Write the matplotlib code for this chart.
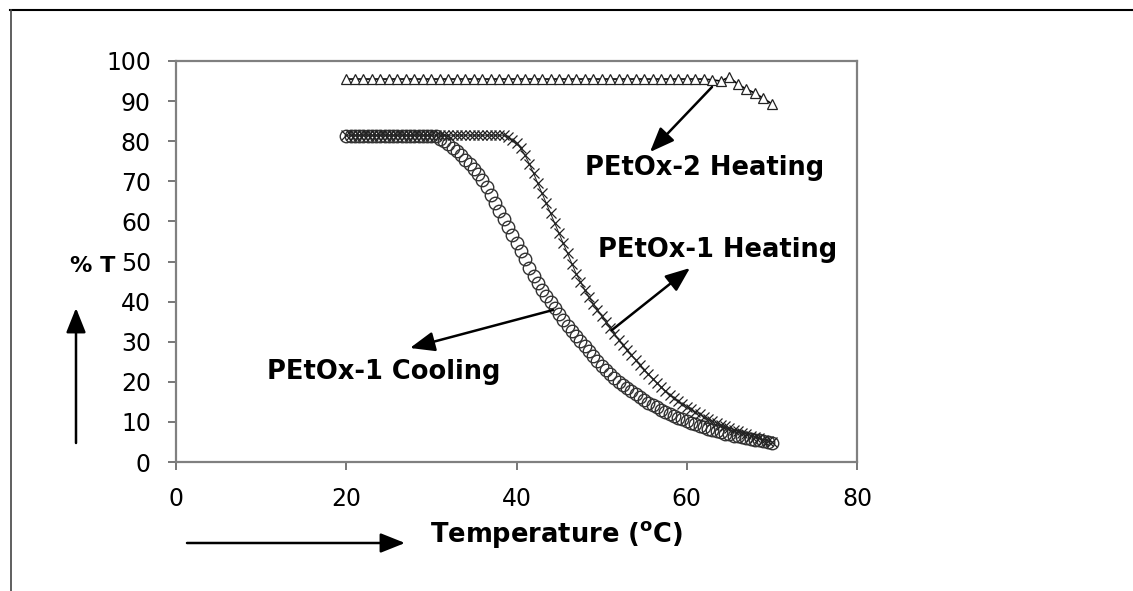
import matplotlib
matplotlib.use("Agg")
import matplotlib.pyplot as plt
from matplotlib.patches import FancyArrowPatch
from matplotlib.lines import Line2D

# PEtOx-1 measured every 0.5 °C, PEtOx-2 every 1 °C
temp_fine = [20 + 0.5 * i for i in range(101)]
temp_coarse = list(range(20, 71))

cooling_1 = ([81.2] * 22 +
             [80.6, 80.0, 79.2, 78.4, 77.5, 76.5, 75.4, 74.3, 73.0, 71.7,
              70.2, 68.5, 66.6, 64.6, 62.5, 60.5, 58.5, 56.5, 54.5, 52.5,
              50.5, 48.5, 46.5, 44.7, 43.0, 41.5, 40.0, 38.5, 37.0, 35.5,
              34.0, 32.7, 31.5, 30.2, 29.0, 27.7, 26.5, 25.2, 24.0, 23.0,
              22.0, 21.0, 20.0, 19.2, 18.5, 17.7, 17.0, 16.2, 15.5, 14.8,
              14.2, 13.6, 13.0, 12.5, 12.0, 11.5, 11.0, 10.6, 10.2, 9.8,
              9.4, 9.0, 8.7, 8.3, 8.0, 7.7, 7.4, 7.1, 6.9, 6.6,
              6.4, 6.2, 6.0, 5.8, 5.6, 5.4, 5.2, 5.0, 4.8])
heating_1 = ([81.5] * 38 +
             [81.0, 80.4, 79.5, 78.2, 76.5, 74.4, 72.0, 69.5, 67.0, 64.5,
              62.0, 59.5, 57.0, 54.5, 52.0, 49.5, 47.0, 45.0, 43.0, 41.2,
              39.5, 38.0, 36.5, 35.0, 33.5, 32.0, 30.5, 29.2, 28.0, 26.7,
              25.5, 24.2, 23.0, 21.9, 20.8, 19.7, 18.7, 17.7, 16.8, 16.0,
              15.2, 14.5, 13.8, 13.1, 12.5, 11.9, 11.3, 10.7, 10.2, 9.7,
              9.3, 8.9, 8.5, 8.1, 7.7, 7.3, 7.0, 6.6, 6.3, 5.9,
              5.6, 5.3, 5.0])
heating_2 = [95.5] * 43 + [95.3, 95.0, 96.0, 94.2, 93.0, 92.0, 90.7, 89.3]

xticks = [0, 20, 40, 60, 80]
yticks = list(range(0, 101, 10))

W, H = 1133, 591
fig = plt.figure(figsize=(W / 100, H / 100), dpi=100)

def fp(px, py):
    return (px / W, 1 - py / H)

ax = fig.add_axes([176 / W, 1 - 462 / H, (857 - 176) / W, (462 - 61) / H])
ax.set_xlim(0, 80)
ax.set_ylim(0, 100)
ax.set_xticks(xticks)
ax.set_yticks(yticks)
for s in ax.spines.values():
    s.set_color("#808080")
    s.set_linewidth(1.6)
ax.tick_params(direction="out", length=6, width=1.2, color="#606060",
               labelsize=17, pad=12, labelcolor="black")

ax.plot(temp_fine, cooling_1, linestyle="none", marker="o", markersize=9,
        markerfacecolor="none", markeredgecolor="#333333", markeredgewidth=1.0)
ax.plot(temp_fine, heating_1, linestyle="-", linewidth=0.7, color="#222222",
        marker="x", markersize=7, markeredgewidth=0.9)
ax.plot(temp_coarse, heating_2, linestyle="-", linewidth=1.2, color="black",
        marker="^", markersize=7, markerfacecolor="white", markeredgecolor="#222222",
        markeredgewidth=0.9)

bold = dict(fontsize=18.5, fontweight="bold", color="black", va="center", ha="left")
fig.text(*fp(585, 168), "PEtOx-2 Heating", **bold)
fig.text(*fp(598, 250), "PEtOx-1 Heating", **bold)
fig.text(*fp(267, 372), "PEtOx-1 Cooling", **bold)
fig.text(*fp(70, 266), "% T", fontsize=16, fontweight="bold", va="center", ha="left")
fig.text(*fp(430, 534), r"Temperature ($\mathbf{^o}$C)", **bold)

def farrow(p0, p1):
    fig.add_artist(FancyArrowPatch(fp(*p0), fp(*p1), transform=fig.transFigure,
                                   arrowstyle="-|>,head_length=0.75,head_width=0.3",
                                   mutation_scale=20, color="black", lw=1.8,
                                   shrinkA=0, shrinkB=0))

farrow((712, 87), (650, 152))
farrow((612, 330), (690, 268))
farrow((553, 310), (410, 348))
farrow((187, 543), (405, 543))
farrow((76, 443), (76, 308))

# outer frame
fig.add_artist(Line2D([10 / W, 1], [1 - 10 / H, 1 - 10 / H],
               transform=fig.transFigure, color="black", lw=1.5))
fig.add_artist(Line2D([11 / W, 11 / W], [0, 1 - 10 / H],
               transform=fig.transFigure, color="#444444", lw=1.2))

fig.savefig("out.png", dpi=100)
